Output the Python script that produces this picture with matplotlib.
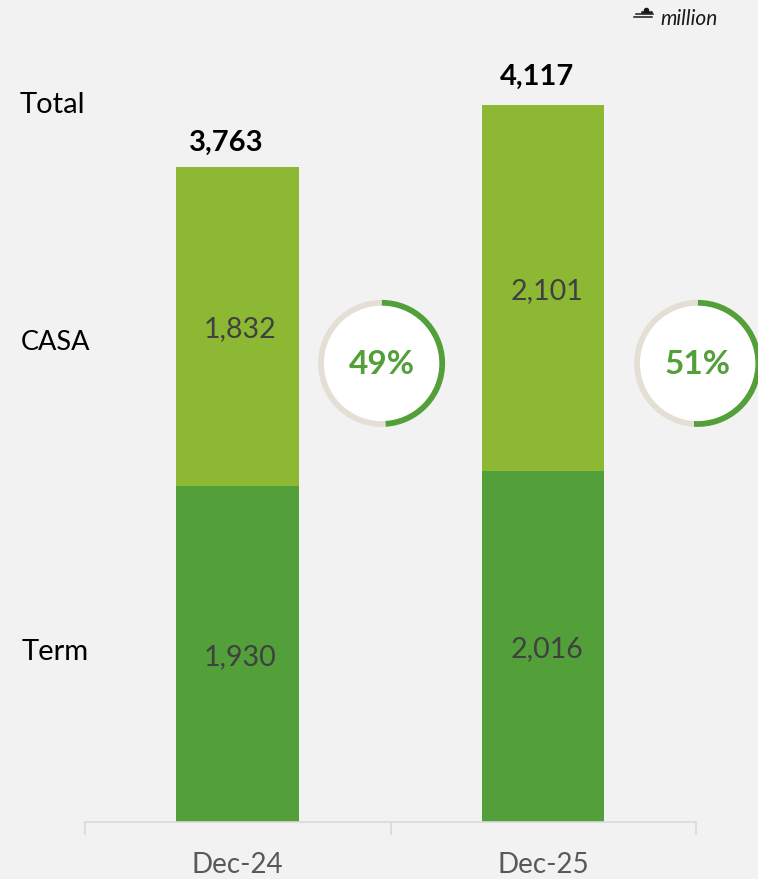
import matplotlib
matplotlib.use("Agg")
import matplotlib.pyplot as plt

plt.rcParams['font.family'] = ['Lato', 'DejaVu Sans']

W, H = 758, 879
BG = '#f2f2f2'
GREEN_DARK = '#539f39'
GREEN_LIGHT = '#8db833'
RING_GREY = '#e3dfd5'

periods = ['Dec-24', 'Dec-25']
term = [1930, 2016]
casa = [1832, 2101]
totals = [3763, 4117]
casa_share = [49, 51]
row_names = ['Total', 'CASA', 'Term']

fig = plt.figure(figsize=((W + 0.2) / 100, (H + 0.2) / 100), dpi=100, facecolor=BG)

# main bars, axes box lines up with the baseline in the picture
ax = fig.add_axes([85 / W, (H - 822) / H, (696 - 85) / W, 822 / H], facecolor='none')
ax.bar([-0.001, 0.999], term, width=0.4, color=GREEN_DARK)
ax.bar([-0.001, 0.999], casa, width=0.4, bottom=term, color=GREEN_LIGHT)
ax.set_xlim(-0.5, 1.5)
ax.set_ylim(0, 822 / 0.1741)
ax.set_yticks([])
ax.set_xticks([-0.5, 0.5, 1.5])
ax.set_xticklabels([])
ax.tick_params(axis='x', length=9, width=1.2, color='#d9d9d9')
for s in ['top', 'left', 'right']:
    ax.spines[s].set_visible(False)
ax.spines['bottom'].set_color('#d9d9d9')
ax.spines['bottom'].set_linewidth(1.2)

# overlay in pixel coords for the hand placed labels
ov = fig.add_axes([0, 0, 1, 1], facecolor='none')
ov.set_xlim(0, W)
ov.set_ylim(H, 0)
ov.axis('off')

for x, name in zip([237.5, 543], periods):
    ov.text(x, 865, name, ha='center', va='center', fontsize=20, color='#595959')
for x, y, v in zip([226, 536.5], [143, 77], totals):
    ov.text(x, y, f'{v:,}', ha='center', va='center', fontsize=21, fontweight='bold', color='black')
for x, y, v in zip([240.5, 546.5], [329, 291], casa):
    ov.text(x, y, f'{v:,}', ha='center', va='center', fontsize=20.5, color='#404040')
for x, y, v in zip([240.5, 547], [657, 649], term):
    ov.text(x, y, f'{v:,}', ha='center', va='center', fontsize=20.5, color='#404040')
for x, y, name, size in zip([52.5, 55, 55.5], [105, 342, 652], row_names, [21, 19.5, 21]):
    ov.text(x, y, name, ha='center', va='center', fontsize=size, color='black')

# unit note, currency mark drawn roughly
ov.text(660, 19, 'million', ha='left', va='center', fontsize=15, style='italic', color='#1a1a1a')
ov.plot([636, 653], [14, 14], color='#1a1a1a', lw=1.1)
ov.plot([634, 652], [17, 17], color='#1a1a1a', lw=1.1)
ov.plot([642, 651], [12, 12], color='#1a1a1a', lw=1.8)
ov.plot([646], [10], marker='o', ms=3, color='#1a1a1a')

# share rings
R = 63.5
RING_W = 6.5
for cx, share in zip([381.5, 697.5], casa_share):
    rax = fig.add_axes([(cx - R) / W, (H - 363.5 - R) / H, 2 * R / W, 2 * R / H], facecolor='none')
    wedges, _ = rax.pie([share, 100 - share], colors=[GREEN_DARK, RING_GREY], startangle=90,
                        counterclock=False, radius=1, wedgeprops=dict(width=RING_W / R))
    for w in wedges:
        w.set_clip_on(False)
    rax.add_patch(plt.Circle((0, 0), 1 - RING_W / R, color='white', clip_on=False))
    rax.set_xlim(-1, 1)
    rax.set_ylim(-1, 1)
    rax.text(0, -0.02, f'{share}%', ha='center', va='center', fontsize=24, fontweight='bold', color=GREEN_DARK)

fig.savefig('out.png', dpi=100, facecolor=BG)
